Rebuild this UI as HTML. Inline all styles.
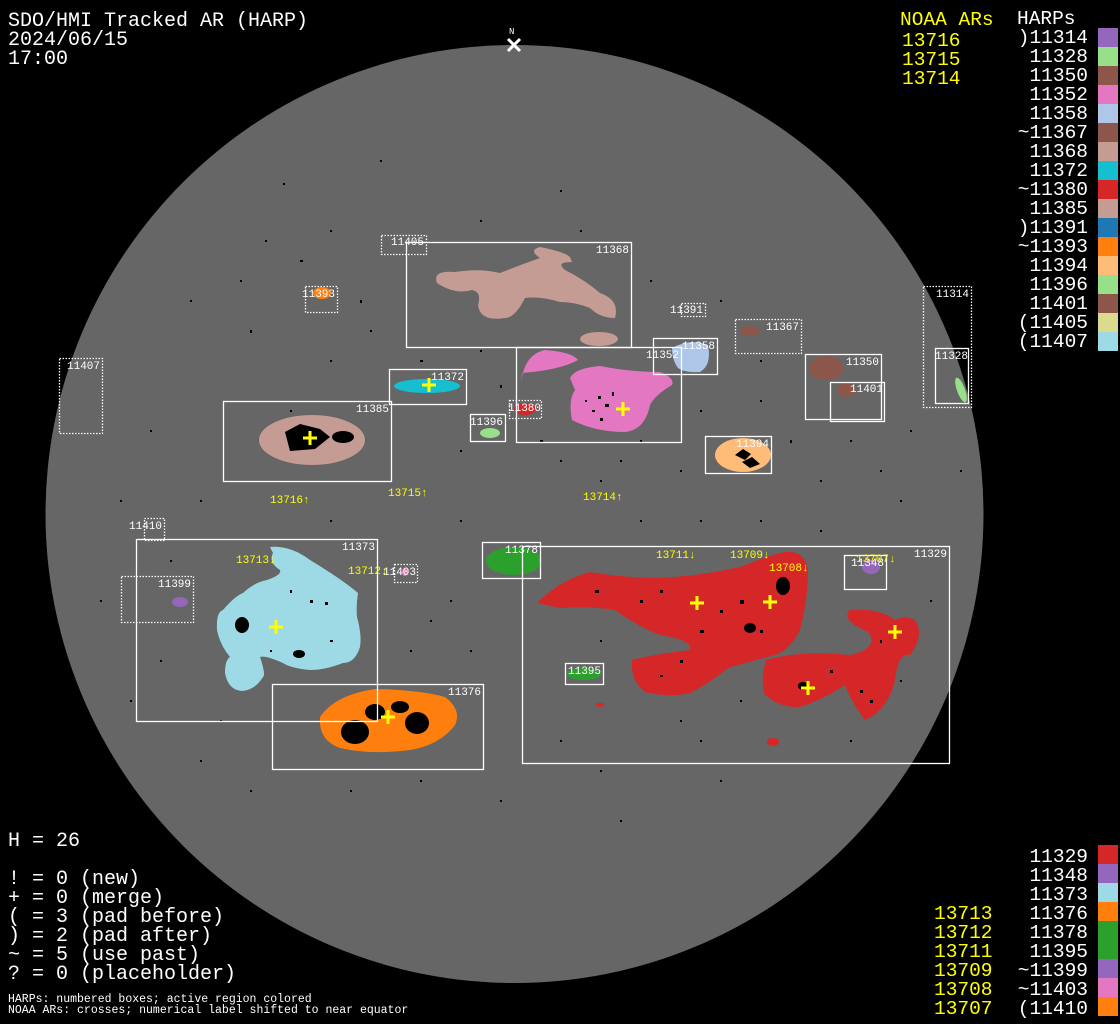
<!DOCTYPE html>
<html><head><meta charset="utf-8"><style>
html,body{margin:0;padding:0;background:#000;width:1120px;height:1024px;overflow:hidden}
svg{display:block}
text{font-family:"Liberation Mono","DejaVu Sans Mono",monospace}
.t{fill:#fff;font-size:20px}
.r{fill:#fff;font-size:19.5px}
.y{fill:#ff0;font-size:19.5px}
.b{fill:#fff;font-size:11px}
.l{fill:#ff0;font-size:11px}
.s{fill:#fff;font-size:11.5px}
.bx{fill:none;stroke:#fff;stroke-width:1.3}
.dt{fill:none;stroke:#fff;stroke-width:1.3;stroke-dasharray:1.5 1.5}
.cr{stroke:#ff0;stroke-width:3;fill:none}
</style></head><body>
<svg width="1120" height="1024" viewBox="0 0 1120 1024" xmlns="http://www.w3.org/2000/svg">
<rect width="1120" height="1024" fill="#000"/>
<circle cx="514.5" cy="514" r="469" fill="#666"/>
<!-- scattered specks -->
<g fill="#000">
<rect x="380" y="160" width="2" height="2"/><rect x="283" y="183" width="2" height="2"/><rect x="560" y="190" width="2" height="2"/>
<rect x="190" y="300" width="2" height="2"/><rect x="150" y="430" width="2" height="2"/><rect x="250" y="330" width="2" height="3"/>
<rect x="460" y="520" width="2" height="2"/><rect x="600" y="480" width="2" height="2"/><rect x="700" y="520" width="2" height="2"/>
<rect x="820" y="480" width="2" height="2"/><rect x="880" y="470" width="2" height="2"/><rect x="200" y="760" width="2" height="2"/>
<rect x="500" y="800" width="2" height="2"/><rect x="620" y="820" width="2" height="2"/><rect x="350" y="790" width="2" height="2"/>
<rect x="720" y="780" width="2" height="2"/><rect x="900" y="500" width="2" height="2"/><rect x="160" y="660" width="2" height="2"/>
<rect x="430" y="620" width="2" height="2"/><rect x="640" y="440" width="2" height="2"/><rect x="560" y="460" width="2" height="2"/>
<rect x="330" y="360" width="2" height="2"/><rect x="290" y="410" width="2" height="2"/><rect x="700" y="410" width="2" height="2"/>
<rect x="265" y="240" width="2" height="2"/><rect x="300" y="260" width="3" height="2"/><rect x="240" y="280" width="2" height="2"/>
<rect x="360" y="300" width="2" height="3"/><rect x="370" y="330" width="2" height="2"/><rect x="420" y="360" width="3" height="2"/>
<rect x="480" y="350" width="2" height="2"/><rect x="500" y="385" width="2" height="3"/><rect x="460" y="450" width="2" height="2"/>
<rect x="540" y="440" width="3" height="2"/><rect x="620" y="460" width="2" height="2"/><rect x="680" y="470" width="2" height="2"/>
<rect x="760" y="400" width="2" height="2"/><rect x="790" y="440" width="2" height="3"/><rect x="850" y="440" width="2" height="2"/>
<rect x="910" y="430" width="2" height="2"/><rect x="720" y="300" width="2" height="2"/><rect x="650" y="280" width="2" height="2"/>
<rect x="760" y="360" width="2" height="2"/><rect x="200" y="500" width="2" height="2"/><rect x="120" y="500" width="2" height="2"/>
<rect x="100" y="600" width="2" height="2"/><rect x="130" y="700" width="2" height="2"/><rect x="220" y="720" width="2" height="2"/>
<rect x="250" y="790" width="2" height="2"/><rect x="420" y="780" width="2" height="2"/><rect x="560" y="740" width="2" height="2"/>
<rect x="600" y="770" width="2" height="2"/><rect x="680" y="720" width="2" height="2"/><rect x="740" y="700" width="2" height="2"/>
<rect x="700" y="740" width="2" height="2"/><rect x="850" y="740" width="2" height="2"/><rect x="900" y="680" width="2" height="2"/>
<rect x="930" y="600" width="2" height="2"/><rect x="570" y="600" width="2" height="2"/><rect x="600" y="640" width="2" height="2"/>
<rect x="450" y="600" width="2" height="2"/><rect x="470" y="650" width="2" height="2"/><rect x="410" y="650" width="2" height="2"/>
<rect x="170" y="560" width="2" height="2"/><rect x="330" y="520" width="2" height="2"/><rect x="640" y="520" width="2" height="2"/>
<rect x="760" y="520" width="2" height="2"/><rect x="820" y="530" width="2" height="2"/><rect x="960" y="470" width="2" height="2"/>
<rect x="580" y="230" width="2" height="2"/><rect x="480" y="220" width="2" height="2"/><rect x="330" y="230" width="2" height="2"/>
</g>
<!-- blobs -->
<path d="M437,283 Q432,270 455,272 Q480,268 500,273 Q520,265 540,258 Q528,250 540,247 Q565,252 570,257 L572,262 Q555,262 565,270 Q585,280 600,293 Q620,300 615,318 Q600,318 590,308 Q575,302 560,302 Q540,296 525,298 Q515,318 505,318 Q480,322 478,305 Q482,292 472,290 Q455,295 437,283 Z" fill="#c49c94"/>
<ellipse cx="599" cy="339" rx="19" ry="7" fill="#c49c94"/>
<ellipse cx="312" cy="440" rx="53" ry="25" fill="#c49c94"/>
<path d="M285,432 l15,-8 l20,5 l10,8 l-15,12 l-25,2 z" fill="#000"/>
<ellipse cx="343" cy="437" rx="11" ry="6" fill="#000"/>
<ellipse cx="427" cy="386" rx="33" ry="7" fill="#17becf"/>
<path d="M521,388 Q522,355 545,350 Q572,352 578,360 Q560,370 522,373 Z" fill="#e377c2"/>
<path d="M570,378 Q575,368 600,366 Q630,372 660,372 Q675,378 672,385 Q655,395 650,405 Q645,430 625,432 Q595,432 572,420 Q568,400 575,390 Z" fill="#e377c2"/>
<g fill="#000"><rect x="598" y="396" width="3" height="3"/><rect x="605" y="404" width="4" height="3"/><rect x="592" y="410" width="3" height="2"/><rect x="612" y="392" width="2" height="4"/><rect x="600" y="418" width="3" height="3"/><rect x="585" y="400" width="2" height="2"/></g>
<path d="M672,348 Q690,338 708,345 Q712,365 700,372 Q685,373 678,368 Q672,360 672,348 Z" fill="#aec7e8"/>
<ellipse cx="525" cy="409" rx="11" ry="6" fill="#d62728"/>
<ellipse cx="490" cy="433" rx="10" ry="5" fill="#98df8a"/>
<ellipse cx="743" cy="455" rx="28" ry="17" fill="#ffbb78"/>
<path d="M735,455 l8,-6 l8,5 l-6,6 z M742,462 l10,-5 l8,7 l-10,4 z" fill="#000"/>
<ellipse cx="750" cy="331" rx="10" ry="5" fill="#8c564b"/>
<ellipse cx="826" cy="368" rx="17" ry="12" fill="#8c564b"/>
<ellipse cx="846" cy="390" rx="9" ry="7" fill="#8c564b"/>
<ellipse cx="961" cy="390" rx="4" ry="13" transform="rotate(-20 961 390)" fill="#98df8a"/>
<ellipse cx="322" cy="293" rx="9" ry="6" fill="#ff7f0e"/>
<path d="M270,547 Q290,545 310,560 Q343,580 358,593 Q356,605 357,617 Q362,635 360,647 Q355,663 343,663 Q325,670 310,670 Q290,668 283,663 Q265,655 260,657 Q266,675 263,677 Q255,690 242,691 Q228,690 225,673 Q225,660 230,657 Q220,645 217,630 Q216,612 223,610 Q235,596 243,593 Q255,582 267,580 Q282,575 280,570 Q268,562 273,553 Z" fill="#9edae5"/>
<ellipse cx="242" cy="625" rx="7" ry="8" fill="#000"/>
<ellipse cx="299" cy="654" rx="6" ry="4" fill="#000"/>
<g fill="#000"><rect x="310" y="600" width="3" height="3"/><rect x="325" y="602" width="3" height="3"/><rect x="290" y="590" width="2" height="3"/><rect x="330" y="640" width="3" height="2"/><rect x="270" y="650" width="2" height="2"/></g>
<ellipse cx="180" cy="602" rx="8" ry="5" fill="#9467bd"/>
<ellipse cx="514" cy="561" rx="28" ry="14" fill="#2ca02c"/>
<ellipse cx="584" cy="674" rx="17" ry="6" fill="#2ca02c"/>
<ellipse cx="871" cy="567" rx="9" ry="7" fill="#9467bd"/>
<ellipse cx="405" cy="572" rx="3" ry="4" fill="#e377c2"/>
<path d="M320,717 Q335,695 375,689 Q420,690 445,697 Q462,710 455,725 Q440,745 410,750 Q370,755 340,748 Q318,740 320,717 Z" fill="#ff7f0e"/>
<ellipse cx="355" cy="732" rx="14" ry="12" fill="#000"/>
<ellipse cx="375" cy="712" rx="10" ry="8" fill="#000"/>
<ellipse cx="417" cy="723" rx="12" ry="11" fill="#000"/>
<ellipse cx="400" cy="707" rx="9" ry="6" fill="#000"/>
<path d="M537,603 Q560,580 590,572 Q625,578 660,578 Q700,576 740,567 Q770,555 785,552 Q805,550 808,570 Q808,600 800,630 Q790,650 775,655 Q755,660 728,668 Q710,683 690,693 Q670,698 645,692 Q630,680 632,660 Q650,655 690,650 Q693,640 660,635 Q635,625 615,610 Q590,606 560,608 Z" fill="#d62728"/>
<path d="M766,660 Q800,650 850,655 Q880,648 868,632 Q840,620 850,610 Q880,608 895,620 Q905,615 915,620 Q925,635 910,655 Q898,652 895,680 Q888,710 865,720 Q850,700 845,685 Q822,700 800,707 Q780,708 765,695 Q760,680 766,660 Z" fill="#d62728"/>
<ellipse cx="783" cy="586" rx="7" ry="9" fill="#000"/>
<ellipse cx="750" cy="628" rx="6" ry="5" fill="#000"/>
<ellipse cx="803" cy="686" rx="5" ry="4" fill="#000"/>
<g fill="#000"><rect x="595" y="590" width="4" height="3"/><rect x="640" y="600" width="3" height="3"/><rect x="660" y="590" width="3" height="3"/><rect x="700" y="630" width="4" height="3"/><rect x="720" y="610" width="3" height="3"/><rect x="680" y="660" width="3" height="3"/><rect x="660" y="675" width="3" height="2"/><rect x="740" y="600" width="4" height="4"/><rect x="760" y="630" width="3" height="3"/><rect x="830" y="670" width="3" height="3"/><rect x="860" y="690" width="3" height="3"/><rect x="880" y="640" width="2" height="3"/><rect x="870" y="700" width="3" height="3"/></g>
<ellipse cx="600" cy="705" rx="4" ry="2" fill="#d62728"/>
<ellipse cx="773" cy="742" rx="6" ry="4" fill="#d62728"/>
<!-- boxes -->
<rect class="dt" x="381.5" y="235.5" width="45" height="19"/>
<rect class="bx" x="406.5" y="242.5" width="225" height="105"/>
<rect class="dt" x="305.5" y="286.5" width="32" height="26"/>
<rect class="dt" x="681.5" y="303.5" width="24" height="13"/>
<rect class="dt" x="923.5" y="286.5" width="48" height="121"/>
<rect class="bx" x="935.5" y="348.5" width="33" height="55"/>
<rect class="dt" x="735.5" y="319.5" width="66" height="34"/>
<rect class="bx" x="805.5" y="354.5" width="76" height="65"/>
<rect class="bx" x="830.5" y="382.5" width="54" height="39"/>
<rect class="bx" x="653.5" y="338.5" width="64" height="36"/>
<rect class="bx" x="516.5" y="347.5" width="165" height="95"/>
<rect class="dt" x="59.5" y="358.5" width="43" height="75"/>
<rect class="bx" x="389.5" y="369.5" width="77" height="35"/>
<rect class="bx" x="223.5" y="401.5" width="168" height="80"/>
<rect class="bx" x="470.5" y="414.5" width="35" height="27"/>
<rect class="dt" x="509.5" y="400.5" width="32" height="18"/>
<rect class="bx" x="705.5" y="436.5" width="66" height="37"/>
<rect class="dt" x="144.5" y="518.5" width="20" height="22"/>
<rect class="bx" x="136.5" y="539.5" width="241" height="182"/>
<rect class="dt" x="121.5" y="576.5" width="72" height="46"/>
<rect class="dt" x="394.5" y="564.5" width="23" height="18"/>
<rect class="bx" x="482.5" y="542.5" width="58" height="36"/>
<rect class="bx" x="522.5" y="546.5" width="427" height="217"/>
<rect class="bx" x="844.5" y="555.5" width="42" height="34"/>
<rect class="bx" x="565.5" y="663.5" width="38" height="21"/>
<rect class="bx" x="272.5" y="684.5" width="211" height="85"/>
<!-- box labels -->
<g class="b">
<text x="391" y="245">11405</text><text x="596" y="253">11368</text><text x="302" y="297">11393</text>
<text x="670" y="313">11391</text><text x="936" y="297">11314</text><text x="935" y="359">11328</text>
<text x="766" y="330">11367</text><text x="846" y="365">11350</text><text x="850" y="392">11401</text>
<text x="682" y="349">11358</text><text x="646" y="358">11352</text><text x="67" y="369">11407</text>
<text x="431" y="380">11372</text><text x="356" y="412">11385</text><text x="470" y="425">11396</text>
<text x="508" y="411">11380</text><text x="736" y="447">11394</text><text x="129" y="529">11410</text>
<text x="342" y="550">11373</text><text x="158" y="587">11399</text><text x="383" y="575">11403</text>
<text x="505" y="553">11378</text><text x="914" y="557">11329</text><text x="851" y="566">11348</text>
<text x="568" y="674">11395</text><text x="448" y="695">11376</text>
</g>
<!-- NOAA labels -->
<g class="l">
<text x="270" y="503">13716↑</text><text x="388" y="496">13715↑</text><text x="583" y="500">13714↑</text>
<text x="236" y="563">13713↓</text><text x="348" y="574">13712↓</text><text x="656" y="558">13711↓</text>
<text x="730" y="558">13709↓</text><text x="769" y="571">13708↓</text><text x="856" y="562">13707↓</text>
</g>
<!-- crosses -->
<g class="cr">
<path d="M422,385h14M429,378v14"/><path d="M616,409h14M623,402v14"/><path d="M303,438h14M310,431v14"/>
<path d="M690,603h14M697,596v14"/><path d="M763,602h14M770,595v14"/><path d="M888,632h14M895,625v14"/>
<path d="M801,688h14M808,681v14"/><path d="M269,627h14M276,620v14"/><path d="M381,717h14M388,710v14"/>
</g>
<!-- north marker -->
<path d="M508,39l12,12M520,39l-12,12" stroke="#fff" stroke-width="3"/>
<text x="509" y="34" class="b" style="font-size:9px">N</text>
<!-- title -->
<text class="t" x="8" y="26">SDO/HMI Tracked AR (HARP)</text>
<text class="t" x="8" y="45">2024/06/15</text>
<text class="t" x="8" y="64">17:00</text>
<!-- top-right legend -->
<text class="y" x="900" y="25">NOAA ARs</text>
<text class="y" x="902" y="46">13716</text><text class="y" x="902" y="65">13715</text><text class="y" x="902" y="84">13714</text>
<text class="r" x="1017" y="24">HARPs</text>
<g class="r" text-anchor="end">
<text x="1088" y="43">)11314</text><text x="1088" y="62">11328</text><text x="1088" y="81">11350</text>
<text x="1088" y="100">11352</text><text x="1088" y="119">11358</text><text x="1088" y="138">~11367</text>
<text x="1088" y="157">11368</text><text x="1088" y="176">11372</text><text x="1088" y="195">~11380</text>
<text x="1088" y="214">11385</text><text x="1088" y="233">)11391</text><text x="1088" y="252">~11393</text>
<text x="1088" y="271">11394</text><text x="1088" y="290">11396</text><text x="1088" y="309">11401</text>
<text x="1088" y="328">(11405</text><text x="1088" y="347">(11407</text>
</g>
<rect x="1098" y="28" width="20" height="19" fill="#9467bd"/><rect x="1098" y="47" width="20" height="19" fill="#98df8a"/>
<rect x="1098" y="66" width="20" height="19" fill="#8c564b"/><rect x="1098" y="85" width="20" height="19" fill="#e377c2"/>
<rect x="1098" y="104" width="20" height="19" fill="#aec7e8"/><rect x="1098" y="123" width="20" height="19" fill="#8c564b"/>
<rect x="1098" y="142" width="20" height="19" fill="#c49c94"/><rect x="1098" y="161" width="20" height="19" fill="#17becf"/>
<rect x="1098" y="180" width="20" height="19" fill="#d62728"/><rect x="1098" y="199" width="20" height="19" fill="#c49c94"/>
<rect x="1098" y="218" width="20" height="19" fill="#1f77b4"/><rect x="1098" y="237" width="20" height="19" fill="#ff7f0e"/>
<rect x="1098" y="256" width="20" height="19" fill="#ffbb78"/><rect x="1098" y="275" width="20" height="19" fill="#98df8a"/>
<rect x="1098" y="294" width="20" height="19" fill="#8c564b"/><rect x="1098" y="313" width="20" height="19" fill="#dbdb8d"/>
<rect x="1098" y="332" width="20" height="19" fill="#9edae5"/>
<!-- bottom-right legend -->
<g class="r" text-anchor="end">
<text x="1088" y="862">11329</text><text x="1088" y="881">11348</text><text x="1088" y="900">11373</text>
<text x="1088" y="919">11376</text><text x="1088" y="938">11378</text><text x="1088" y="957">11395</text>
<text x="1088" y="976">~11399</text><text x="1088" y="995">~11403</text><text x="1088" y="1014">(11410</text>
</g>
<g class="y">
<text x="934" y="919">13713</text><text x="934" y="938">13712</text><text x="934" y="957">13711</text>
<text x="934" y="976">13709</text><text x="934" y="995">13708</text><text x="934" y="1014">13707</text>
</g>
<rect x="1098" y="845" width="20" height="19" fill="#d62728"/><rect x="1098" y="864" width="20" height="19" fill="#9467bd"/>
<rect x="1098" y="883" width="20" height="19" fill="#9edae5"/><rect x="1098" y="902" width="20" height="19" fill="#ff7f0e"/>
<rect x="1098" y="921" width="20" height="19" fill="#2ca02c"/><rect x="1098" y="940" width="20" height="19" fill="#2ca02c"/>
<rect x="1098" y="959" width="20" height="19" fill="#9467bd"/><rect x="1098" y="978" width="20" height="19" fill="#e377c2"/>
<rect x="1098" y="997" width="20" height="19" fill="#ff7f0e"/>
<!-- bottom-left -->
<text class="t" x="8" y="846">H = 26</text>
<text class="t" x="8" y="884">! = 0 (new)</text>
<text class="t" x="8" y="903">+ = 0 (merge)</text>
<text class="t" x="8" y="922">( = 3 (pad before)</text>
<text class="t" x="8" y="941">) = 2 (pad after)</text>
<text class="t" x="8" y="960">~ = 5 (use past)</text>
<text class="t" x="8" y="979">? = 0 (placeholder)</text>
<text class="s" x="8" y="1002">HARPs: numbered boxes; active region colored</text>
<text class="s" x="8" y="1013">NOAA ARs: crosses; numerical label shifted to near equator</text>
</svg>
</body></html>
